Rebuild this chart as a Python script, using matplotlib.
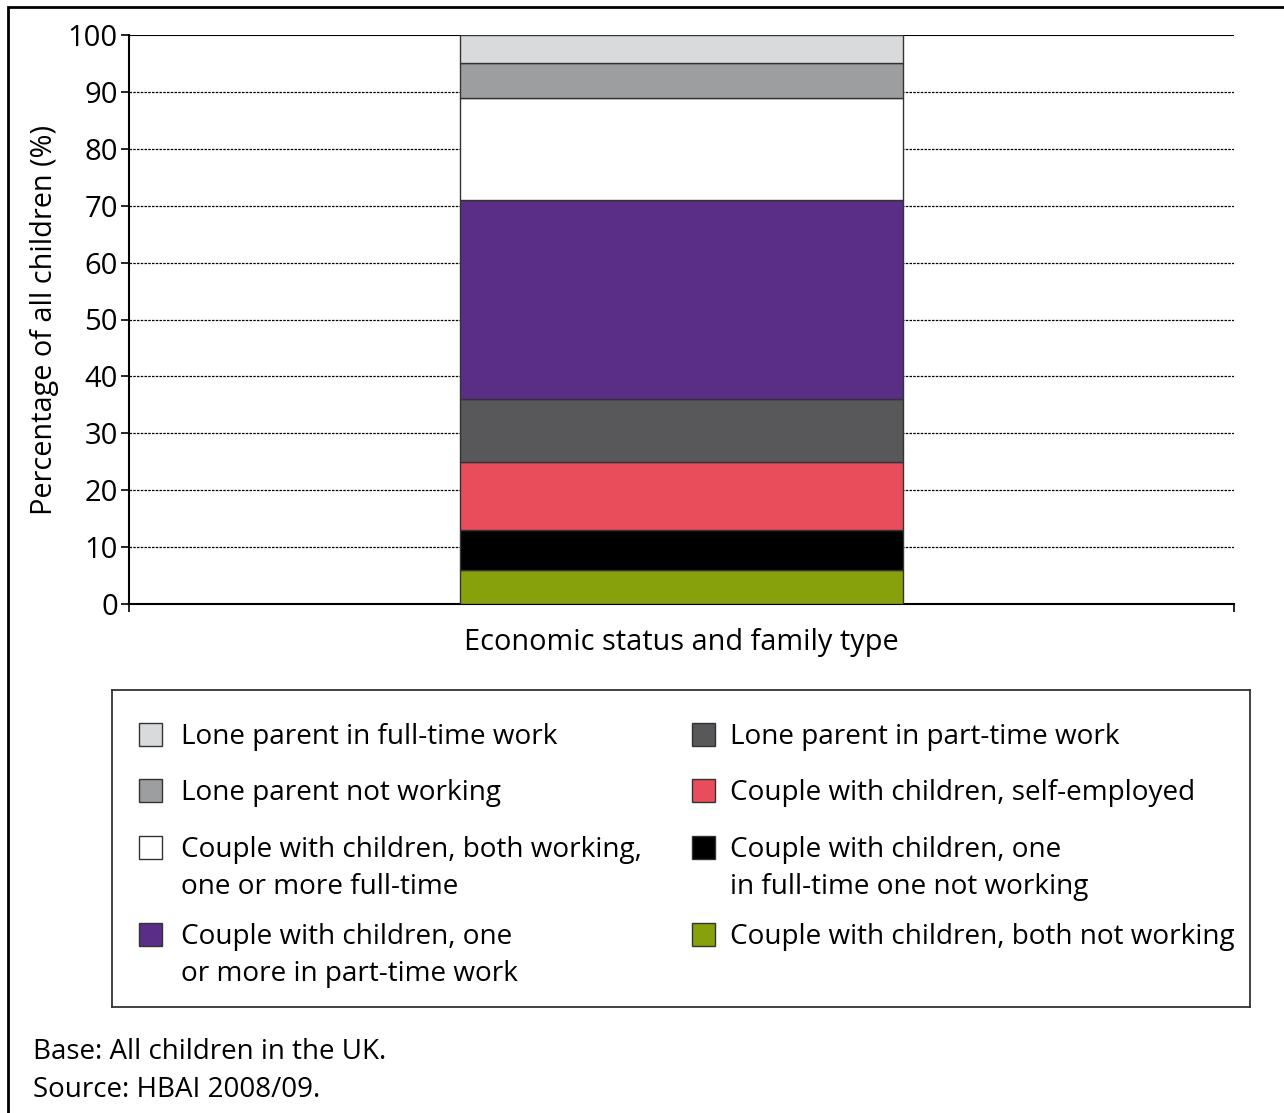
"""
Stacked bar: children by economic status and family type (HBAI 2008/09).
"""

import matplotlib
matplotlib.use("Agg")
import matplotlib.pyplot as plt
from matplotlib.patches import Rectangle

# stack order, bottom to top
segments = [
    "Couple with children, both not working",
    "Couple with children, one\nin full-time one not working",
    "Couple with children, self-employed",
    "Lone parent in part-time work",
    "Couple with children, one\nor more in part-time work",
    "Couple with children, both working,\none or more full-time",
    "Lone parent not working",
    "Lone parent in full-time work",
]
shares = [6, 7, 12, 11, 35, 18, 6, 5]
colors = ["#86a10b", "#000000", "#e84d5c", "#58585a",
          "#5a2e86", "#ffffff", "#9d9ea0", "#d9dadb"]
yticks = [0, 10, 20, 30, 40, 50, 60, 70, 80, 90, 100]

W, H = 1284, 1113
plt.rcParams["font.family"] = ["Open Sans", "DejaVu Sans"]


def fx(x):
    return x / W


def fy(y):
    return 1 - y / H


fig = plt.figure(figsize=(W / 100, H / 100), dpi=100)

# outer frame (left and top edges visible)
fig.patches.append(Rectangle((fx(8), fy(1200)), 1.2, fy(7) - fy(1200),
                             transform=fig.transFigure, fill=False,
                             edgecolor="black", lw=2.0, clip_on=False))

ax = fig.add_axes([fx(129), fy(604), fx(1234) - fx(129), fy(35) - fy(604)])

bottom = 0
for share, col in zip(shares, colors):
    ax.bar(0, share, width=0.401, bottom=bottom, color=col,
           edgecolor="#333333", linewidth=1.0, zorder=3)
    bottom += share

ax.set_xlim(-0.5, 0.5)
ax.set_ylim(0, 100)
ax.set_yticks(yticks)
ax.set_yticklabels([str(t) for t in yticks], fontsize=21)
ax.set_xticks([-0.5, 0.5])
ax.set_xticklabels(["", ""])
ax.tick_params(axis="both", direction="out", length=6, width=1.2, color="black")
ax.tick_params(axis="y", pad=2)

for t in yticks[1:-1]:
    ax.axhline(t, color="black", lw=0.9, linestyle=(0, (2, 1)), zorder=1)
ax.axhline(100, color="black", lw=1.5, zorder=2)

for side in ["top", "right"]:
    ax.spines[side].set_visible(False)
ax.spines["left"].set_linewidth(1.5)
ax.spines["bottom"].set_linewidth(1.5)

ax.set_xlabel("Economic status and family type", fontsize=20.8, labelpad=8)
ax.set_ylabel("Percentage of all children (%)", fontsize=20.8, labelpad=6)

# legend panel
lax = fig.add_axes([fx(112), fy(1007), fx(1250) - fx(112), fy(690) - fy(1007)])
lax.set_xlim(112, 1250)
lax.set_ylim(1007, 690)
lax.set_xticks([])
lax.set_yticks([])
for sp in lax.spines.values():
    sp.set_linewidth(1.3)
    sp.set_color("#333333")

order = list(range(len(segments)))[::-1]
sq_x = [139, 692]
txt_x = [181, 730]
row_y = [734, 790, 847, 934]
sq = 23
for k, idx in enumerate(order):
    c, r = divmod(k, 4)
    y0 = row_y[r]
    lax.add_patch(Rectangle((sq_x[c], y0 - sq / 2), sq, sq,
                            facecolor=colors[idx], edgecolor="#333333", lw=1.0))
    for i, line in enumerate(segments[idx].split("\n")):
        lax.text(txt_x[c], y0 + 10 + i * 37, line, fontsize=20.1,
                 va="baseline", ha="left")

fig.text(fx(33), fy(1059), "Base: All children in the UK.", fontsize=20,
         va="baseline")
fig.text(fx(33), fy(1097), "Source: HBAI 2008/09.", fontsize=20,
         va="baseline")

plt.savefig("out.png", dpi=100)
plt.close()
